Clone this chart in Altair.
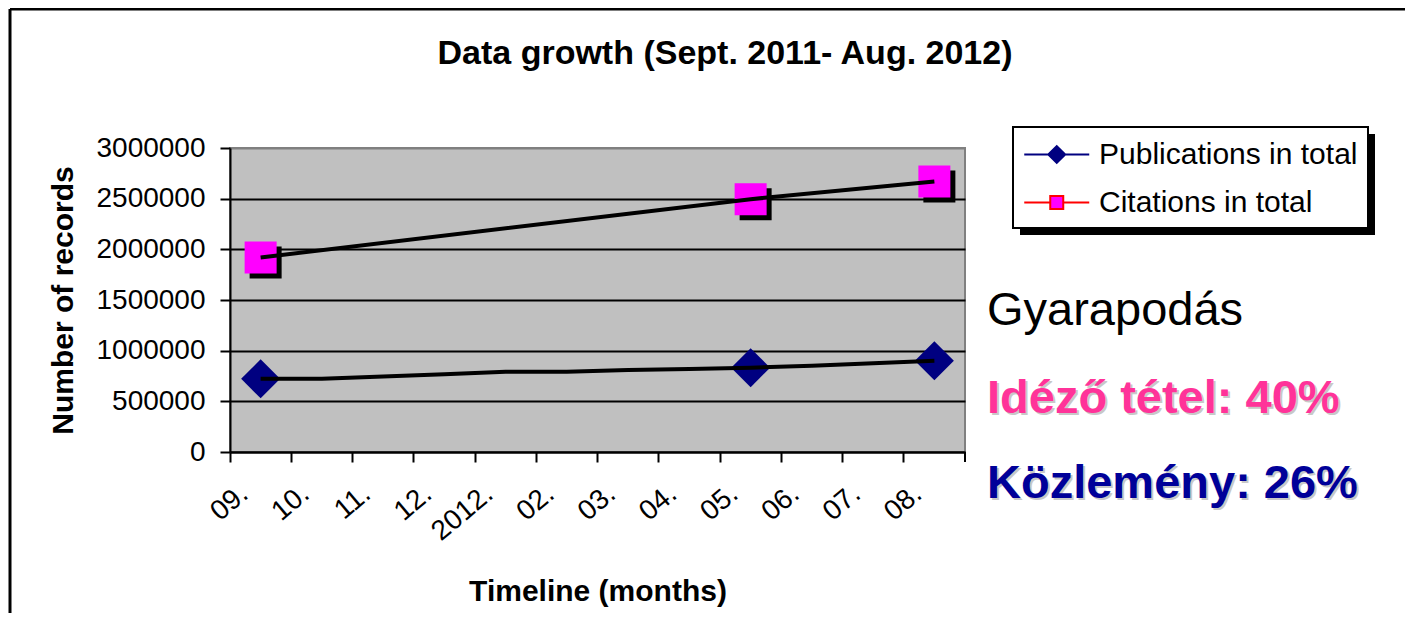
import altair as alt
import pandas as pd

# ---------------- data ----------------
months = ["09.", "10.", "11.", "12.", "2012.", "02.", "03.", "04.", "05.", "06.", "07.", "08."]
publications = [722000, 722000, 744000, 768000, 791000, 791000, 808000, 820000, 832000, 851000, 875000, 900000]
citations = [1920000, None, None, None, None, None, None, None, 2495000, None, None, 2670000]
marker_months = ["09.", "05.", "08."]
series_names = ["Publications in total", "Citations in total"]
y_ticks = [0, 500000, 1000000, 1500000, 2000000, 2500000, 3000000]

title_text = "Data growth (Sept. 2011- Aug. 2012)"
x_title = "Timeline (months)"
y_title = "Number of records"
note_texts = ["Gyarapodás", "Idéző tétel: 40%", "Közlemény: 26%"]

FONT = "Liberation Sans"

rows = []
for i, m in enumerate(months):
    rows.append({"month": m, "idx": i, "series": series_names[0],
                 "value": publications[i], "marker": m in marker_months})
    if citations[i] is not None:
        rows.append({"month": m, "idx": i, "series": series_names[1],
                     "value": citations[i], "marker": m in marker_months})
df = pd.DataFrame(rows)
one = pd.DataFrame({"k": [0]})

# ---------------- encodings ----------------
x_enc = alt.X(
    "month:N",
    scale=alt.Scale(type="band", domain=months, paddingInner=0, paddingOuter=0),
    axis=alt.Axis(
        title=x_title, bandPosition=0, labelOffset=-16, labelAngle=-40,
        labelAlign="right", labelBaseline="middle", labelPadding=28,
        labelOverlap=False, labelFlush=False, labelFont=FONT, labelFontSize=28,
        labelColor="black", tickSize=10, tickColor="black", tickWidth=2,
        domainColor="black", domainWidth=2, grid=False,
        titleFont=FONT, titleFontSize=30, titleFontWeight="bold", titleColor="black",
        titleY=148, titleBaseline="alphabetic",
    ),
)
y_enc = alt.Y(
    "value:Q",
    scale=alt.Scale(domain=[0, 3000000], nice=False, zero=True),
    axis=alt.Axis(
        title=y_title, values=y_ticks, format="d", labelFont=FONT, labelFontSize=28,
        labelColor="black", labelPadding=15, tickSize=10, tickColor="black", tickWidth=2,
        domainColor="black", domainWidth=2, grid=True,
        gridColor={"condition": {"test": "datum.value >= 3000000", "value": "#808080"}, "value": "black"},
        gridWidth=2,
        titleFont=FONT, titleFontSize=30, titleFontWeight="bold", titleColor="black",
        titleX=-158, titleY=152, titleAngle=-90, titleBaseline="alphabetic", titleAlign="center",
    ),
)

base = alt.Chart(df)

# markers
cit_pts = base.transform_filter(
    f"datum.series == '{series_names[1]}' && datum.marker"
)
cit_shadow = cit_pts.mark_square(color="black", size=1024, opacity=1, xOffset=5, yOffset=5).encode(x=x_enc, y=y_enc)
cit_marker = cit_pts.mark_square(color="#ff00ff", size=1024, opacity=1).encode(x=x_enc, y=y_enc)
pub_marker = base.transform_filter(
    f"datum.series == '{series_names[0]}' && datum.marker"
).mark_point(shape="diamond", filled=True, color="#000080", size=1521, opacity=1).encode(x=x_enc, y=y_enc)

# lines (drawn above the markers)
lines = base.mark_line(color="black", strokeWidth=4).encode(
    x=x_enc, y=y_enc, detail="series:N", order="idx:Q"
)

# closing tick at the right end of the x axis
end_tick = alt.Chart(one).mark_rule(color="black", strokeWidth=2).encode(
    x=alt.value(735), y=alt.value(304), y2=alt.value(314)
)

# outer frame (top and left edges; the rest lies outside the picture)
frame_top = alt.Chart(one).mark_rule(color="black", strokeWidth=3).encode(
    x=alt.value(-220), x2=alt.value(1175), y=alt.value(-139)
)
frame_left = alt.Chart(one).mark_rule(color="black", strokeWidth=3).encode(
    x=alt.value(-220), y=alt.value(-139), y2=alt.value(480)
)

# title
title = alt.Chart(pd.DataFrame({"t": [title_text]})).mark_text(
    font=FONT, fontSize=34, fontWeight="bold", color="black",
    align="center", baseline="alphabetic"
).encode(x=alt.value(495), y=alt.value(-84), text="t:N")

# legend shadow
legend_shadow = alt.Chart(one).mark_rect(color="black").encode(
    x=alt.value(790), x2=alt.value(1145), y=alt.value(-14), y2=alt.value(87)
)

# notes on the right
def note(txt, y, color, weight, shadow=False):
    d = pd.DataFrame({"t": [txt]})
    layers = []
    if shadow:
        layers.append(alt.Chart(d).mark_text(
            font=FONT, fontSize=47, fontWeight=weight, color="#c8c8c8",
            align="left", baseline="alphabetic", dx=2, dy=2
        ).encode(x=alt.value(757), y=alt.value(y), text="t:N"))
    layers.append(alt.Chart(d).mark_text(
        font=FONT, fontSize=47, fontWeight=weight, color=color,
        align="left", baseline="alphabetic"
    ).encode(x=alt.value(757), y=alt.value(y), text="t:N"))
    return layers

notes = []
notes += note(note_texts[0], 177, "black", "normal")
notes += note(note_texts[1], 265, "#ff3399", "bold", shadow=True)
notes += note(note_texts[2], 350, "#000099", "bold", shadow=True)

# legend carrier (symbols off-canvas; only the legend shows)
# unit = 16.25 px (sqrt(1056)/2); symbol spans -1..3 units = 65 px, marker at unit 1
path_pub = "M-1,0L3,0M0.48,0L1,-0.52L1.52,0L1,0.52Z"
path_cit = "M-1,0L0.6,0M1.4,0L3,0M0.6,-0.4L1.4,-0.4L1.4,0.4L0.6,0.4Z"
leg = alt.Legend(
    title=None, orient="none", legendX=783, legendY=-21, symbolSize=1056,
    symbolStrokeWidth=2, labelFont=FONT, labelFontSize=30, labelColor="black",
    labelOffset=41, labelLimit=0, padding=10, rowPadding=15, strokeColor="black",
    fillColor="white", zindex=1, symbolOpacity=1,
)
legend_layer = alt.Chart(pd.DataFrame({"series": series_names})).mark_point(filled=True).encode(
    x=alt.value(-9999), y=alt.value(-9999),
    shape=alt.Shape("series:N", scale=alt.Scale(domain=series_names, range=[path_pub, path_cit]), legend=leg),
    fill=alt.Fill("series:N", scale=alt.Scale(domain=series_names, range=["#000080", "#ff00ff"]), legend=leg),
    stroke=alt.Stroke("series:N", scale=alt.Scale(domain=series_names, range=["#000080", "#ff0000"]), legend=leg),
)

chart = alt.layer(
    legend_shadow, cit_shadow, cit_marker, pub_marker, lines, end_tick,
    frame_top, frame_left, title, *notes, legend_layer
).properties(
    width=735, height=304,
    autosize=alt.AutoSizeParams(type="none"),
    padding={"left": 222, "top": 140, "right": 443, "bottom": 161},
    background="white",
).configure_view(
    fill="#c0c0c0", stroke="#808080", strokeWidth=2
).configure_legend(
    strokeWidth=2
)

chart.save("out.html", embed_options={"renderer": "svg", "actions": False})
